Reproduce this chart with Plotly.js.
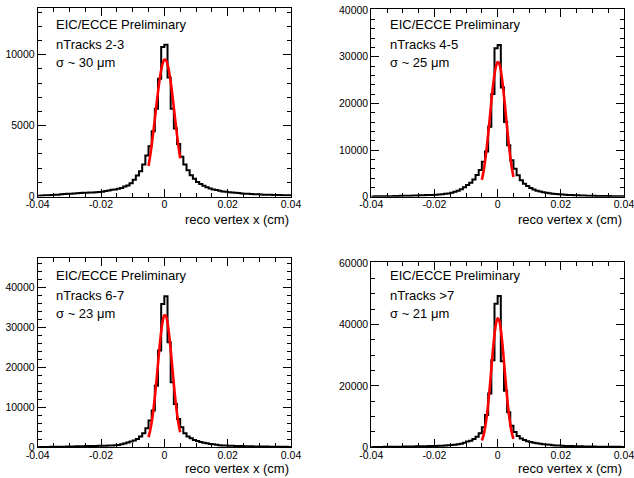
<!DOCTYPE html>
<html>
<head>
<meta charset="utf-8">
<script src="https://cdn.plot.ly/plotly-3.0.1.min.js"></script>
<style>html,body{margin:0;padding:0;background:#fff;}#chart{width:634px;height:478px;}</style>
</head>
<body>
<div id="chart"></div>
<script>
// Histogram binning: 80 bins from -0.04 to 0.04 cm
const binLow = -0.04;
const binWidth = 0.001;
const nBins = 80;

// Bin contents
const counts23 = [60,70,80,90,100,120,130,150,170,190,
  200,210,230,240,260,270,280,290,300,310,
  330,380,420,470,500,540,600,700,780,940,
  1180,1480,1790,2260,2900,3540,4600,6200,8300,10550,
  10700,8400,6200,4800,3700,2800,2260,1850,1500,1250,
  1030,880,760,650,560,500,450,400,360,330,
  300,280,260,240,220,200,190,175,160,150,
  140,130,120,115,110,105,100,95,90,80];
const counts45 = [60,70,80,90,100,110,120,140,160,180,
  190,210,230,250,270,290,310,340,360,390,
  430,480,540,620,710,860,1070,1290,1570,2000,
  2500,3000,3700,4640,5700,7500,9700,15000,22000,31800,
  32500,23400,16000,11000,7800,6000,4600,3500,2800,2300,
  1850,1550,1300,1100,950,830,730,650,580,520,
  470,420,380,350,320,290,270,250,230,210,
  190,170,160,150,140,130,120,110,100,90];
const counts67 = [70,80,90,100,110,120,130,140,160,180,
  200,220,240,260,280,300,310,330,350,370,
  380,400,420,450,500,580,750,920,1170,1420,
  1670,2080,2670,3500,4750,6700,9200,15400,24200,35800,
  37750,26250,16250,10800,7080,5000,3500,2670,2250,1830,
  1580,1330,1150,1000,850,750,620,540,480,430,
  400,370,340,320,300,280,260,240,220,200,
  190,180,170,160,150,140,130,120,110,100];
const counts7p = [100,110,120,130,140,150,160,170,180,200,
  220,240,260,290,310,330,350,380,400,430,
  460,500,540,600,680,760,860,980,1190,1520,
  1850,2170,2710,3470,4560,6500,10500,17500,28300,46700,
  49200,28000,18400,11400,7000,5000,3700,2900,2400,2000,
  1750,1500,1300,1150,1000,900,800,700,620,560,
  500,460,420,390,360,330,310,290,270,250,
  230,210,200,190,180,170,160,150,140,130];

// Gaussian fit curves (red)
const fitX = [-0.005,-0.0045,-0.004,-0.0035,-0.003,-0.0025,-0.002,-0.0015,-0.001,-0.0005,0,
  0.0005,0.001,0.0015,0.002,0.0025,0.003,0.0035,0.004,0.0045,0.005];
const fit23 = [2153,2832,3629,4521,5474,6450,7389,8235,8927,9411,9649,9622,9333,8803,8077,7207,6257,5281,4336,3463,2688];
const fit45 = [3602,5310,7518,10231,13377,16799,20277,23509,26196,28040,28837,28494,27050,24667,21616,18202,14724,11446,8545,6133,4228];
const fit67 = [2567,4102,6246,9071,12577,16609,20926,25177,28872,31585,32954,32799,31135,28187,24337,20063,15766,11810,8449,5759,3748];
const fit7p = [2201,3814,6250,9668,14137,19526,25473,31429,36624,40320,41954,41248,38312,33638,27901,21861,16195,11323,7493,4679,2759];

const labelsTop = ["EIC/ECCE Preliminary","EIC/ECCE Preliminary","EIC/ECCE Preliminary","EIC/ECCE Preliminary"];
const labelsTracks = ["nTracks 2-3","nTracks 4-5","nTracks 6-7","nTracks >7"];
const labelsSigma = ["σ ~ 30 μm","σ ~ 25 μm","σ ~ 23 μm","σ ~ 21 μm"];
const xTitle = "reco vertex x (cm)";

const allCounts = [counts23, counts45, counts67, counts7p];
const allFits = [fit23, fit45, fit67, fit7p];

// layout geometry (pixels)
const W = 634, H = 478;
const frames = [
  {l:37.7, r:291, t:8, b:196.5, ymax:13300, dt:5000, mdt:1000},
  {l:371.3, r:624, t:9.3, b:196.7, ymax:40150, dt:10000, mdt:2000},
  {l:37.7, r:291, t:258, b:447.3, ymax:47300, dt:10000, mdt:2000},
  {l:371.3, r:624, t:262, b:447.3, ymax:60300, dt:20000, mdt:5000}
];
const textY = [[24.3,44.3,62.3],[24.3,44.3,62.3],[275.7,295,313],[275.7,295,313]];
const titleY = [219,219,468,468];

const font = "Liberation Sans, Arial, Helvetica, sans-serif";
const traces = [];
const layout = {
  width: W, height: H,
  margin: {l:0,r:0,t:0,b:0,pad:0},
  paper_bgcolor: "#fff", plot_bgcolor: "#fff",
  showlegend: false,
  font: {family: font, color: "#000"},
  annotations: []
};

for (let k = 0; k < 4; k++) {
  const sfx = k === 0 ? "" : String(k + 1);
  const xs = [], ys = [];
  const c = allCounts[k];
  for (let i = 0; i < nBins; i++) { xs.push(binLow + i * binWidth); ys.push(c[i]); }
  xs.push(binLow + nBins * binWidth); ys.push(c[nBins - 1]);
  traces.push({type:"scatter", mode:"lines", x:xs, y:ys, xaxis:"x"+sfx, yaxis:"y"+sfx,
    line:{color:"#000", width:2, shape:"hv"}, hoverinfo:"skip"});
  traces.push({type:"scatter", mode:"lines", x:fitX, y:allFits[k], xaxis:"x"+sfx, yaxis:"y"+sfx,
    line:{color:"#ff0000", width:2.6, shape:"spline", smoothing:1}, hoverinfo:"skip"});

  const f = frames[k];
  layout["xaxis"+sfx] = {
    domain:[f.l/W, f.r/W], anchor:"y"+sfx, range:[-0.04,0.04],
    tickmode:"linear", tick0:-0.04, dtick:0.02,
    labelalias:{"−0.04":"-0.04","−0.02":"-0.02"},
    ticks:"inside", ticklen:8, tickwidth:1, tickcolor:"#000",
    minor:{dtick:0.005, tick0:0, ticks:"inside", ticklen:4, tickwidth:1, tickcolor:"#000", showgrid:false},
    showline:true, linecolor:"#000", linewidth:1, mirror:"allticks",
    showgrid:false, zeroline:false, fixedrange:true,
    ticklabeloverflow:"allow", ticklabelstandoff:-2,
    tickfont:{family:font, size:10.5, color:"#000"}
  };
  layout["yaxis"+sfx] = {
    domain:[(H-f.b)/H, (H-f.t)/H], anchor:"x"+sfx, range:[0, f.ymax],
    tickmode:"linear", tick0:0, dtick:f.dt, tickformat:"d",
    ticks:"inside", ticklen:8, tickwidth:1, tickcolor:"#000",
    minor:{dtick:f.mdt, tick0:0, ticks:"inside", ticklen:4, tickwidth:1, tickcolor:"#000", showgrid:false},
    showline:true, linecolor:"#000", linewidth:1, mirror:"allticks",
    showgrid:false, zeroline:false, fixedrange:true,
    ticklabeloverflow:"allow",
    tickfont:{family:font, size:10.5, color:"#000"}
  };
  const tx = (f.l + 16.6) / W;
  const lines = [labelsTop[k], labelsTracks[k], labelsSigma[k]];
  for (let j = 0; j < 3; j++) {
    layout.annotations.push({xref:"paper", yref:"paper", x:tx, y:(H-textY[k][j])/H,
      xanchor:"left", yanchor:"middle", showarrow:false, text:lines[j],
      font:{family:font, size:13, color:"#000"}});
  }
  layout.annotations.push({xref:"paper", yref:"paper", x:f.r/W, y:(H-titleY[k])/H,
    xanchor:"right", yanchor:"middle", showarrow:false, text:xTitle,
    font:{family:font, size:13, color:"#000"}});
}

Plotly.newPlot("chart", traces, layout, {displayModeBar:false, staticPlot:true});
</script>
</body>
</html>
